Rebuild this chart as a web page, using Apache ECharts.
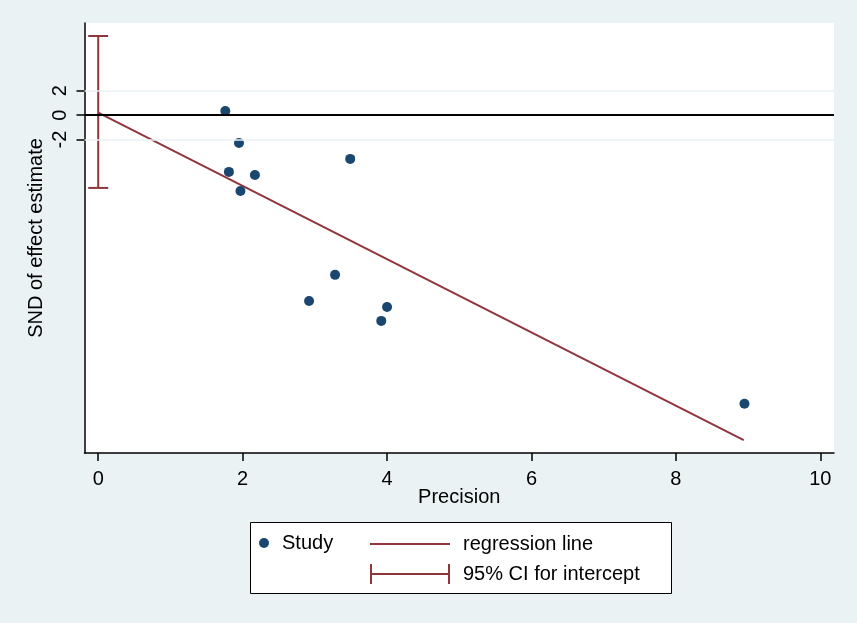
<!DOCTYPE html>
<html>
<head>
<meta charset="utf-8">
<script src="https://cdn.jsdelivr.net/npm/echarts@6/dist/echarts.min.js"></script>
<style>
html,body{margin:0;padding:0;background:#EAF2F3;}
#c{width:857px;height:623px;}
</style>
</head>
<body>
<div id="c"></div>
<script>
// Study points: precision (x) and standard normal deviate (y)
const precision = [1.76, 1.95, 1.81, 2.17, 1.97, 3.49, 3.28, 2.92, 4.00, 3.92, 8.95];
const snd       = [0.33, -2.28, -4.64, -4.89, -6.20, -3.58, -13.05, -15.18, -15.67, -16.81, -23.58];
// Regression line endpoints
const regX = [0, 8.94];
const regY = [0.2, -26.55];
// 95% CI for intercept
const ciX = 0;
const ciLow = -5.95;
const ciHigh = 6.46;
// Tick labels
const xTicks = [0, 2, 4, 6, 8, 10];
const yTicks = [-2, 0, 2];

const NAVY = '#1A476F';
const MAROON = '#90353B';
const FONT = '"Liberation Sans", Arial, sans-serif';

const chart = echarts.init(document.getElementById('c'));
chart.setOption({
  backgroundColor: '#EAF2F3',
  animation: false,
  textStyle: { fontFamily: FONT },
  grid: { left: 84.5, right: 23, top: 23, bottom: 170, show: true, backgroundColor: '#FFFFFF', borderWidth: 0 },
  xAxis: {
    type: 'value', min: -0.19, max: 10.19,
    name: 'Precision', nameLocation: 'middle', nameGap: 34, nameMoveOverlap: false,
    nameTextStyle: { fontSize: 20, color: '#000', fontFamily: FONT },
    axisLine: { show: true, onZero: false, lineStyle: { color: '#000', width: 1.5 } },
    axisTick: { show: true, length: 8, lineStyle: { color: '#000', width: 1.5 }, customValues: xTicks },
    axisLabel: { fontSize: 20, color: '#000', margin: 16, fontFamily: FONT, customValues: xTicks },
    splitLine: { show: false }
  },
  yAxis: {
    type: 'value', min: -27.6, max: 7.52,
    name: 'SND of effect estimate', nameLocation: 'middle', nameGap: 38, nameRotate: 90, nameMoveOverlap: false,
    nameTextStyle: { fontSize: 20, color: '#000', fontFamily: FONT },
    axisLine: { show: true, onZero: false, lineStyle: { color: '#000', width: 1.5 } },
    axisTick: { show: true, length: 8, lineStyle: { color: '#000', width: 1.5 }, customValues: yTicks },
    axisLabel: { fontSize: 20, color: '#000', margin: 14, rotate: 90, fontFamily: FONT, customValues: yTicks },
    splitLine: { show: false }
  },
  legend: [
    { data: ['Study'], left: 259, top: 533, padding: 0, itemWidth: 10, itemHeight: 10, icon: 'circle',
      textStyle: { fontSize: 20, color: '#000', fontFamily: FONT, padding: [0, 0, 0, 8] }, selectedMode: false },
    { data: ['regression line'], left: 370, top: 534, padding: 0, itemWidth: 80, itemHeight: 2, icon: 'rect',
      textStyle: { fontSize: 20, color: '#000', fontFamily: FONT, padding: [0, 0, 0, 8] }, selectedMode: false },
    { data: ['95% CI for intercept'], left: 370, top: 564, padding: 0, itemWidth: 80, itemHeight: 20,
      icon: 'path://M0,0h2v20h-2z M2,9h76v2h-76z M78,0h2v20h-2z',
      textStyle: { fontSize: 20, color: '#000', fontFamily: FONT, padding: [0, 0, 0, 8] }, selectedMode: false }
  ],
  graphic: [
    { type: 'rect', left: 250, top: 522, shape: { width: 421, height: 71 },
      style: { fill: '#FFFFFF', stroke: '#000', lineWidth: 1 }, z: -1 }
  ],
  series: [
    {
      name: 'reference', type: 'line', data: [], silent: true,
      markLine: {
        silent: true, symbol: 'none', label: { show: false }, animation: false,
        data: [
          { yAxis: 2, lineStyle: { color: '#EAF2F3', width: 1.5, type: 'solid' } },
          { yAxis: -2, lineStyle: { color: '#EAF2F3', width: 1.5, type: 'solid' } },
          { yAxis: 0, lineStyle: { color: '#000', width: 2, type: 'solid' } }
        ]
      }
    },
    {
      name: 'regression line', type: 'line', showSymbol: false, symbol: 'none',
      color: MAROON, lineStyle: { color: MAROON, width: 2 },
      data: regX.map((x, i) => [x, regY[i]]), z: 3
    },
    {
      name: '95% CI for intercept', type: 'custom', color: MAROON,
      itemStyle: { color: MAROON },
      encode: { x: 0, y: [1, 2] },
      data: [[ciX, ciLow, ciHigh]],
      renderItem: function (params, api) {
        const x = api.value(0);
        const top = api.coord([x, api.value(2)]);
        const bot = api.coord([x, api.value(1)]);
        const half = 10;
        const st = { stroke: MAROON, lineWidth: 2 };
        return {
          type: 'group', children: [
            { type: 'line', shape: { x1: top[0], y1: top[1], x2: bot[0], y2: bot[1] }, style: st },
            { type: 'line', shape: { x1: top[0] - half, y1: top[1], x2: top[0] + half, y2: top[1] }, style: st },
            { type: 'line', shape: { x1: bot[0] - half, y1: bot[1], x2: bot[0] + half, y2: bot[1] }, style: st }
          ]
        };
      },
      z: 3
    },
    {
      name: 'Study', type: 'scatter', symbol: 'circle', symbolSize: 10,
      itemStyle: { color: NAVY, opacity: 1 }, color: NAVY,
      data: precision.map((x, i) => [x, snd[i]]), z: 4
    }
  ]
});
</script>
</body>
</html>
